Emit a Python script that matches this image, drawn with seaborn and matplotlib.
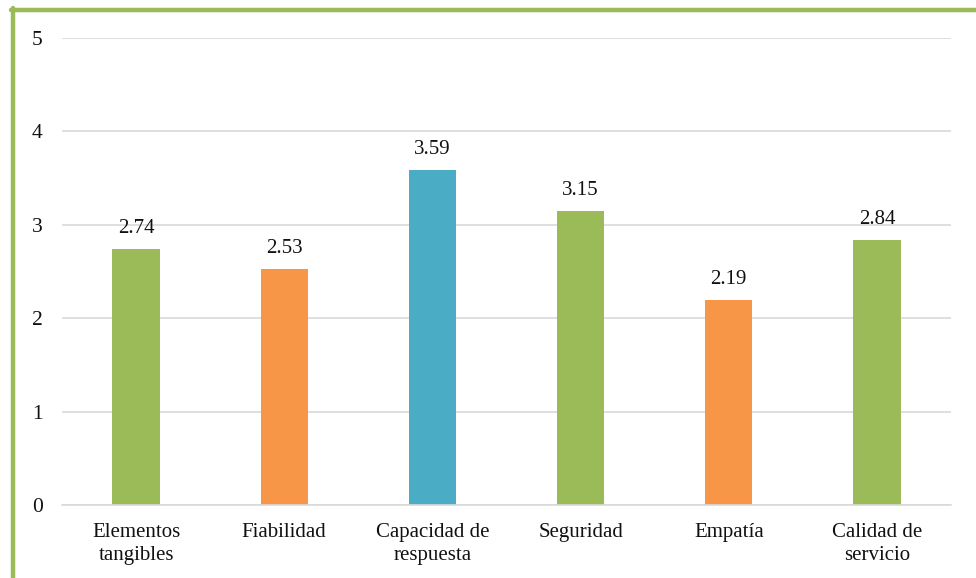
import matplotlib
matplotlib.use("Agg")
import matplotlib.pyplot as plt
from matplotlib.lines import Line2D
import seaborn as sns
import pandas as pd

categories = ["Elementos\ntangibles", "Fiabilidad", "Capacidad de\nrespuesta",
              "Seguridad", "Empatía", "Calidad de\nservicio"]
values = [2.74, 2.53, 3.59, 3.15, 2.19, 2.84]
bar_colors = ["#9BBB59", "#F79646", "#4BACC6", "#9BBB59", "#F79646", "#9BBB59"]
y_ticks = [0, 1, 2, 3, 4, 5]

sns.set_theme(style="white")
plt.rcParams["font.family"] = ["Liberation Serif", "DejaVu Serif"]

df = pd.DataFrame({"dimension": categories, "score": values})

fig = plt.figure(figsize=(9.76, 5.78), dpi=100)
ax = fig.add_axes([0.0635, 0.1263, 0.9109, 0.808])

sns.barplot(data=df, x="dimension", y="score", hue="dimension",
            palette=dict(zip(categories, bar_colors)), width=0.32,
            legend=False, saturation=1, linewidth=0, ax=ax)

ax.set_ylim(0, 5)
ax.set_yticks(y_ticks)
ax.set_xlim(-0.5, len(categories) - 0.5)
ax.yaxis.grid(True, color="#D9D9D9", linewidth=1.2)
ax.set_axisbelow(True)
for side in ["top", "right", "left"]:
    ax.spines[side].set_visible(False)
ax.spines["bottom"].set_color("#D9D9D9")
ax.spines["bottom"].set_linewidth(1.2)
ax.set_xlabel("")
ax.set_ylabel("")
ax.tick_params(axis="y", length=0, pad=14, labelsize=15.5, labelcolor="#111111")
ax.tick_params(axis="x", length=0, pad=13, labelsize=15, labelcolor="#111111")
for lbl in ax.get_xticklabels():
    lbl.set_linespacing(1.25)

for container in ax.containers:
    ax.bar_label(container, fmt="%.2f", padding=8, fontsize=15, color="#111111")

# Green frame around the chart area
frame_kw = dict(color="#9BBB59", linewidth=3.2, transform=fig.transFigure)
fig.add_artist(Line2D([11 / 976, 1.0], [1 - 9.5 / 578, 1 - 9.5 / 578], **frame_kw))
fig.add_artist(Line2D([12.5 / 976, 12.5 / 976], [0.0, 1 - 8 / 578], **frame_kw))

fig.savefig("out.png", dpi=100)
